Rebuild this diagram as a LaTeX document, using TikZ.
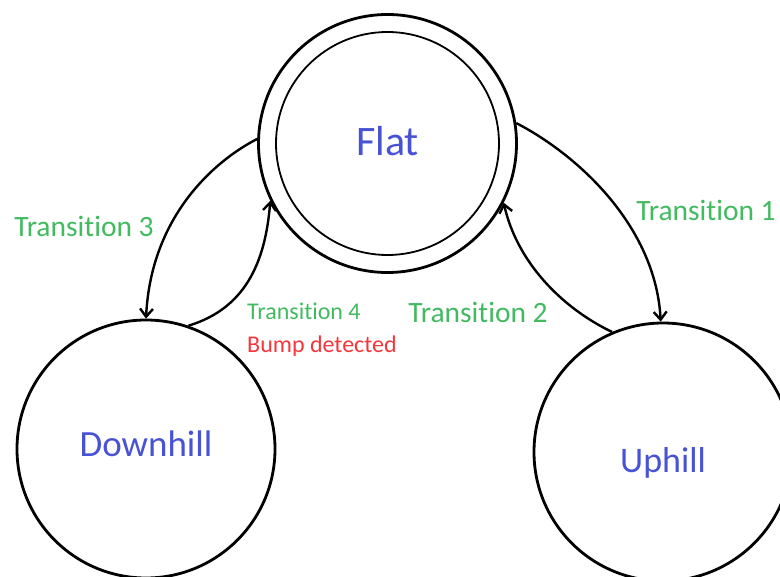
\documentclass[tikz,border=0pt]{standalone}
\usepackage{fontspec}
\setmainfont{Carlito}[Ligatures={NoCommon,NoContextual}]
\usetikzlibrary{arrows.meta}
\definecolor{stateblue}{RGB}{72,82,212}
\definecolor{labelgreen}{RGB}{66,186,96}
\definecolor{labelred}{RGB}{245,55,60}
\begin{document}
\begin{tikzpicture}[x=1pt,y=-1pt,
  state/.style={circle, draw, line width=2.8pt, minimum size=258pt, inner sep=0pt,
    text=stateblue, text depth=0pt},
  trans/.style={line width=2.4pt, -{Straight Barb[length=8pt,width=13pt]}},
  tlabel/.style={text=labelgreen, font=\fontsize{29.5}{32}\selectfont, inner sep=0pt, anchor=base},
  smalllabel/.style={font=\fontsize{24}{26}\selectfont, inner sep=0pt, anchor=base west}]
\useasboundingbox (0,0) rectangle (780,577);
\clip (0,0) rectangle (780,577);

% states
\node[state, text height=25pt, font=\fontsize{42}{44}\selectfont] (flat) at (387.5,143.5) {Flat};
\draw[line width=1.8pt] (flat.center) circle[radius=111.5pt];
\node[state, text height=16pt, font=\fontsize{37}{40}\selectfont] (down) at (146,449) {Downhill};
\node[state, text height=42pt, font=\fontsize{36}{40}\selectfont] (up) at (663,452) {Uphill};

% transitions
\draw[trans] (flat.178) .. controls +(-43,22) and +(5,-102) .. (down.90);
\draw[trans] (down.71) .. controls +(56,-17) and +(-5,63) .. (flat.206);
\draw[trans] (flat.9) .. controls +(62,32) and +(-5,-95) .. (up.91);
\draw[trans] (up.113) .. controls +(-52,-25) and +(13,58) .. (flat.333);

% labels
\node[tlabel] (t3) at (84,237) {Transition 3};
\node[tlabel] (t1) at (706,220.5) {Transition 1};
\node[tlabel] (t2) at (478,323) {Transition 2};
\node[smalllabel, text=labelgreen] (t4) at (247,320) {Transition 4};
\node[smalllabel, text=labelred] (bump) at (247,353) {Bump detected};
\end{tikzpicture}
\end{document}
